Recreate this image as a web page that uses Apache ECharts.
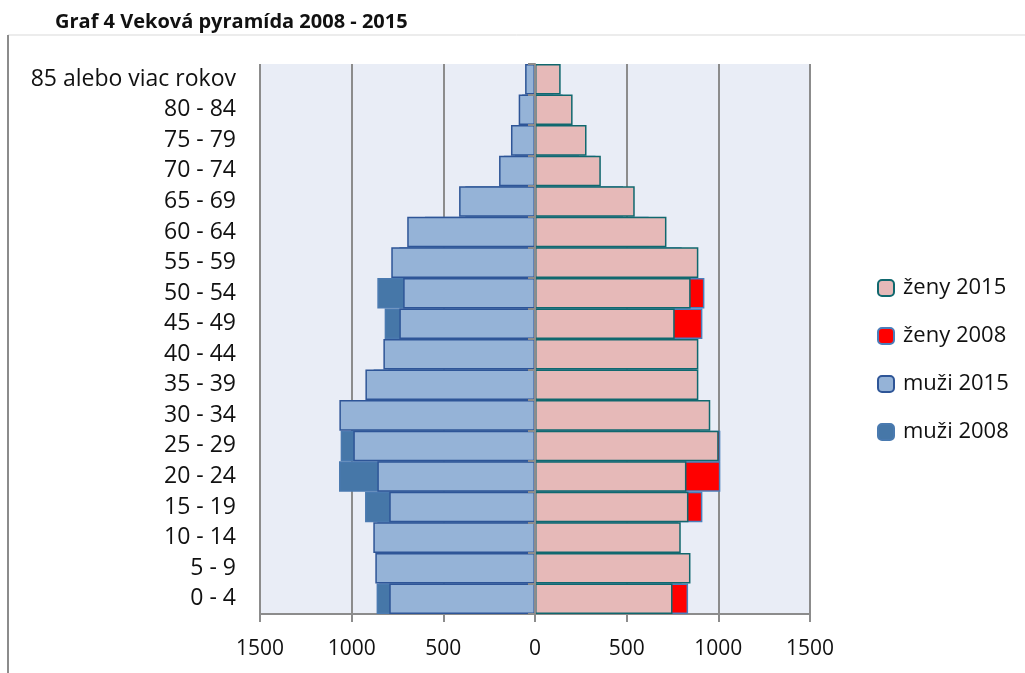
<!DOCTYPE html>
<html>
<head>
<meta charset="utf-8">
<title>Graf 4 Veková pyramída 2008 - 2015</title>
<script src="https://cdn.jsdelivr.net/npm/echarts@6/dist/echarts.min.js"></script>
<style>
  html, body { margin: 0; padding: 0; background: #fff; }
  #chart-show { width: 1025px; height: 673px; }
</style>
</head>
<body>
<div id="chart-show"></div>
<script>
// vekove skupiny (odspodu nahor)
var ageGroups = ['0 - 4', '5 - 9', '10 - 14', '15 - 19', '20 - 24', '25 - 29', '30 - 34', '35 - 39',
    '40 - 44', '45 - 49', '50 - 54', '55 - 59', '60 - 64', '65 - 69', '70 - 74', '75 - 79',
    '80 - 84', '85 alebo viac rokov'];

var muzi2008 = [864, 850, 860, 927, 1069, 1060, 1000, 880, 800, 820, 860, 740, 600, 380, 170, 110, 70, 40];
var muzi2015 = [795, 871, 882, 795, 860, 991, 1067, 925, 827, 740, 719, 784, 697, 414, 196, 131, 89, 54];
var zeny2008 = [835, 800, 780, 913, 1011, 1011, 900, 860, 880, 913, 924, 800, 620, 480, 330, 240, 150, 100];
var zeny2015 = [750, 848, 795, 837, 826, 1002, 956, 891, 891, 762, 849, 891, 717, 544, 359, 281, 205, 140];

window.onload = all;
function all(){
    pyramida();
}

function neg(arr){
    return arr.map(function (v) { return -v; });
}

function pyramida(){
    var chart = echarts.init(document.getElementById('chart-show'));
    var font = '"Open Sans", Lato, sans-serif';

    var option = {
        animation: false,
        backgroundColor: '#fff',
        textStyle: { fontFamily: font },
        title: {
            text: 'Graf 4 Veková pyramída 2008 - 2015',
            left: 50,
            top: 7,
            textStyle: { fontFamily: font, fontSize: 20, fontWeight: 'bold', color: '#111' }
        },
        graphic: [
            { type: 'line', shape: { x1: 8, y1: 35, x2: 1025, y2: 35 }, style: { stroke: '#d9d9d9', lineWidth: 1 } },
            { type: 'line', shape: { x1: 8, y1: 35, x2: 8, y2: 673 }, style: { stroke: '#8c8c8c', lineWidth: 2 } }
        ],
        legend: {
            orient: 'vertical',
            left: 872,
            top: 272,
            itemWidth: 16,
            itemHeight: 16,
            itemGap: 26,
            data: ['ženy 2015', 'ženy 2008', 'muži 2015', 'muži 2008'],
            textStyle: { fontFamily: font, fontSize: 22, lineHeight: 22, color: '#111', padding: [0, 0, 0, 4] }
        },
        grid: {
            left: 260,
            right: 215,
            top: 64,
            bottom: 59,
            show: true,
            backgroundColor: '#e9edf6',
            borderWidth: 0
        },
        xAxis: {
            type: 'value',
            min: -1500,
            max: 1500,
            interval: 500,
            axisLine: { show: true, onZero: false, lineStyle: { color: '#8c8c8c', width: 2 } },
            axisTick: { show: true, length: 8, lineStyle: { color: '#8c8c8c', width: 2 } },
            axisLabel: {
                margin: 25,
                fontSize: 21,
                color: '#111',
                formatter: function (v) { return String(Math.abs(v)); }
            },
            splitLine: { show: true, lineStyle: { color: '#8c8c8c', width: 2 } }
        },
        yAxis: [
            {
                type: 'category',
                data: ageGroups,
                position: 'left',
                axisLine: { show: false, onZero: false },
                axisTick: { show: false },
                splitLine: { show: false },
                minorTick: { show: false },
                axisLabel: { margin: 24, fontSize: 23, color: '#111', padding: [4, 0, 0, 0] }
            },
            {
                type: 'category',
                data: ageGroups,
                position: 'left',
                z: 10,
                axisLine: { show: true, onZero: true, onZeroAxisIndex: 0, lineStyle: { color: '#8c8c8c', width: 2 } },
                axisTick: { show: true, length: 7, lineStyle: { color: '#8c8c8c', width: 2 } },
                splitLine: { show: false },
                axisLabel: { show: false }
            }
        ],
        series: [
            {
                name: 'muži 2008',
                type: 'bar',
                barGap: '-100%',
                barCategoryGap: 0,
                data: neg(muzi2008),
                itemStyle: { color: '#4677a8', borderColor: '#4a7ab0', borderWidth: 1.5 }
            },
            {
                name: 'muži 2015',
                type: 'bar',
                barGap: '-100%',
                barCategoryGap: 0,
                data: neg(muzi2015),
                itemStyle: { color: '#95b3d7', borderColor: '#2e5597', borderWidth: 1.5 }
            },
            {
                name: 'ženy 2008',
                type: 'bar',
                barGap: '-100%',
                barCategoryGap: 0,
                data: zeny2008,
                itemStyle: { color: '#ff0000', borderColor: '#4a7ebb', borderWidth: 1.5 }
            },
            {
                name: 'ženy 2015',
                type: 'bar',
                barGap: '-100%',
                barCategoryGap: 0,
                data: zeny2015,
                itemStyle: { color: '#e6b9b8', borderColor: '#10686e', borderWidth: 1.5 }
            }
        ]
    };

    chart.setOption(option);
    window.onresize = function () {
        chart.resize();
    };
}
</script>
</body>
</html>
